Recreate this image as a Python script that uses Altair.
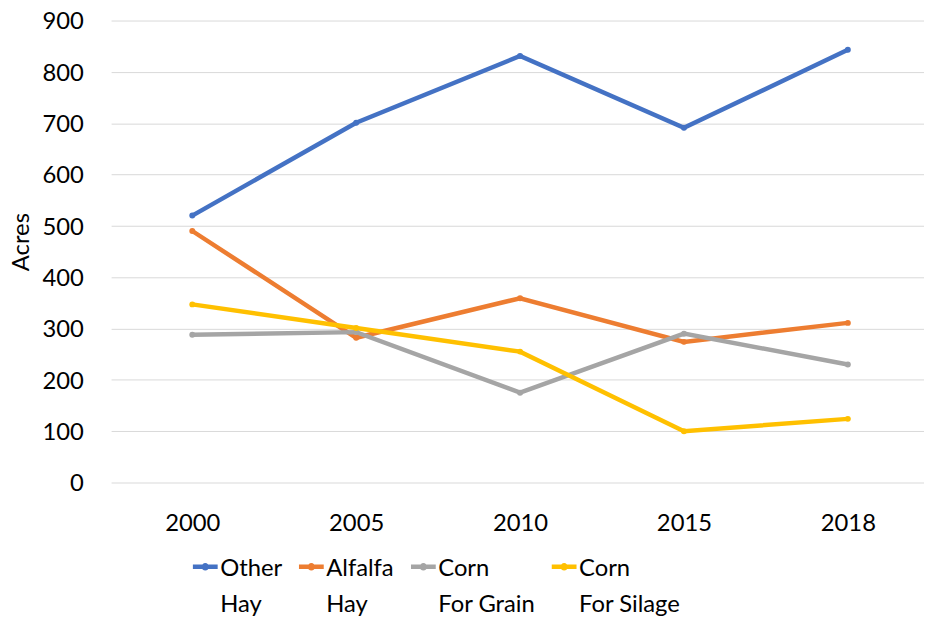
import altair as alt
import pandas as pd

years = ["2000", "2005", "2010", "2015", "2018"]
series = ["Other Hay", "Alfalfa Hay", "Corn For Grain", "Corn For Silage"]
other_hay = [520, 701, 831, 691, 843]
alfalfa_hay = [490, 282, 359, 274, 311]
corn_grain = [288, 293, 175, 290, 230]
corn_silage = [347, 301, 255, 100, 124]
colors = ["#4472C4", "#ED7D31", "#A5A5A5", "#FFC000"]
y_ticks = [0, 100, 200, 300, 400, 500, 600, 700, 800, 900]

values = [other_hay, alfalfa_hay, corn_grain, corn_silage]
rows = []
for s, vals in zip(series, values):
    for yr, v in zip(years, vals):
        rows.append({"Year": yr, "Series": s, "Acres": v})
df = pd.DataFrame(rows)

FONT = "Lato"
symbol_path = "M-1,0L1,0M-0.12,0A0.12,0.12,0,1,0,0.12,0A0.12,0.12,0,1,0,-0.12,0"

chart = alt.Chart(df).mark_line(
    strokeWidth=4.5,
    point=alt.OverlayMarkDef(size=36, filled=True, opacity=1),
).encode(
    x=alt.X(
        "Year:O",
        sort=years,
        scale=alt.Scale(type="point", padding=0.48, align=0.516),
        axis=alt.Axis(
            title=None, labelAngle=0, domain=False, ticks=False, grid=False,
            labelPadding=20, labelFontSize=24, labelFont=FONT, labelColor="#000000",
        ),
    ),
    y=alt.Y(
        "Acres:Q",
        scale=alt.Scale(domain=[0, 900], nice=False, zero=True),
        axis=alt.Axis(
            values=y_ticks, title="Acres", grid=True, gridColor="#D9D9D9", gridWidth=1,
            domain=False, ticks=False, tickSize=0, labelPadding=28, labelOffset=-7.6,
            labelFontSize=24, labelFont=FONT, labelColor="#000000",
            titleFont=FONT, titleFontSize=24, titleFontWeight="normal", titleColor="#000000",
            titlePadding=9, titleY=223,
        ),
    ),
    color=alt.Color(
        "Series:N",
        scale=alt.Scale(domain=series, range=colors),
        legend=alt.Legend(
            title=None, orient="none", legendX=80, legendY=536, direction="horizontal",
            columns=4, symbolType=symbol_path, symbolSize=625, symbolStrokeWidth=4.5,
            labelFont=FONT, labelFontSize=24, labelColor="#000000",
            labelBaseline="alphabetic", labelOffset=0, columnPadding=7, padding=0,
            labelLimit=300,
            labelExpr="[slice(datum.label, 0, indexof(datum.label, ' ')), slice(datum.label, indexof(datum.label, ' ') + 1)]",
        ),
    ),
).properties(
    width=820,
    height=466,
    autosize=alt.AutoSizeParams(type="none"),
    padding={"left": 104, "top": 10, "right": 0, "bottom": 132},
).configure(
    style={"guide-label": {"lineHeight": 37, "dy": 9}}
).configure_view(
    stroke=None
)

chart.save("out.html", embed_options={"renderer": "svg", "actions": False})
